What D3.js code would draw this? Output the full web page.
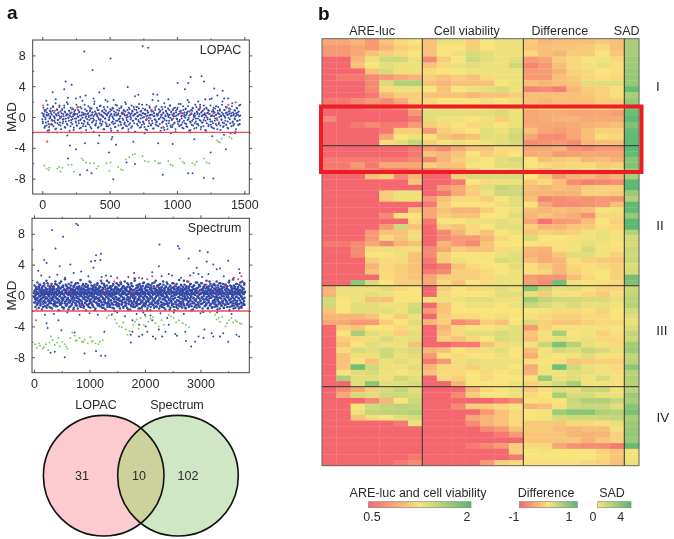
<!DOCTYPE html>
<html><head><meta charset="utf-8">
<script src="https://cdn.jsdelivr.net/npm/d3@7/dist/d3.min.js"></script>
<style>html,body{margin:0;background:#fff}svg{display:block;font-family:"Liberation Sans",Arial,sans-serif;filter:blur(.35px)}</style>
</head><body><svg id="c" width="674" height="539"></svg>
<script>
// Isolated points are read off the reference. The dense central bands cannot be
// resolved point by point, so the *BandY lists are hand-written estimates of that band.
const lopacBandY=[.5,-.8,1.2,.1,-1.4,.7,-.3,.9,-1.1,.2,1.6,-.6,.4,-1.7,.8,-.1,1.1,-.9,.3,-.5,1.4,-1.2,.6,0,-.7,1.8,-1.5,.2,.9,-.4,.5,-1,1.3,-.2,.7,-1.6,.1,1,-.8,.4,-.3,1.5,-1.3,.6,-.6,.2,1.9,-1,.3,-.1,.8,-1.8,.5,1.2,-.4,0,-.9,1.1,.3,-1.4,.7,-.2,.4,-.7,1.6,-1.1,.1,.9,-.5,.6,-1.5,1.3,-.3,.2,-.8,2.1,-1.2,.5,.3,-.6,1,-.1,-1.7,.8,.4,-.9,1.4,0,-.4,.7,-1.3,.2,1.1,-.7,.6,-.2,-1.9,1.7,.3,-1,.5,-.5,1.2,.1,-1.4,.9,-.3,.4,-.8,1.5,-1.1,.2,.7,-.6,0,1.3,-1.6,.5,-.2,.8,-.9,.3,2,-1.2,.6,-.4,.1,1,-1.5,.4,-.7,1.2,-.1,-.9,.7,.2,-1.3,1.6,-.5,.3,.9,-1.8,.5,-.3,1.1,-.6,.1,-1,1.4,.6,-.2,-1.4,.8,.4,-.7,1.9,-1.1,.2,-.4,.9,0,-1.6,1.2,.5,-.8,.3,-.1,1.5,-1.2,.7,-.5,.2,1,-1.9,.4,-.3,1.3,-.9,.6,.1,-.6,1.7,-1.4,.3,-.2,.8,-1,.5,1.1,-.7,0,-1.3,.9,.4,-.4,1.6,-1.7,.2,.6,-.1,-.8,1.2,.3,-1.1,.7,-.5,2.2,-1.5,.1,.5,-.3,.9,-1,1.4,-.6,.2,.4,-1.2,1,-.2,.7,-1.8,.3,1.3,-.7,-.1,.6,-1.4,1.8,-.4,.2,.8,-.9,.5,-1.6,1.1,0,-.5,.3,1.5,-1.1,.7,-.3,-1.3,.9,.1,.4,-.8,1.2,-1.9,.6,-.2,1,-.6,.3,1.7,-1.2,-.4,.5,.8,-1,.2,-.7,1.4,-1.5,.1,.6,-.1,1.1,-.9,.4,-1.3,.7,-.3,1.9,.2,-.6,-1.7,.9,.5,-.5,1.2,-1.1,.3,0,-.8,1.6,-.2,-1.4,.7,.4,-.9,1,.1,-.4,1.3,-1.6,.6,-.7,.2,.8,-1.2,1.5,-.1,.3,-.5,-1.8,1.1,.5,-.3,.9,-1,.4,2.3,-.6,.1,-1.3,.7,.2,-.8,1.2,-1.5,.6,-.2,.3,1.4,-1.1,-.4,.8,.5,-.9,0,1,-1.7,.2,-.3,1.6,-.7,.4,-1.2,.9,.1,-.5,1.3,-1,.6,-1.4,.3,-.1,1.1,.7,-.8,-2.1,.5,.2,1.8,-.6,-1.1,.4,.9,-.3,.1,-1.6,1.2,-.5,.6,.3,-1,1.5,-.9,.2];
const lopacBand2Y=[-.3,-.6,.2,.4,.9,-1.2,-.1,-.7,.3,.6,1.1,.2,-.9,-1.3,-.2,.1,.7,.5,-.4,-1,.8,1.3,.1,-.5,-.2,-1.6,.4,.3,1,-.8,-.4,.6,.2,1.5,-.7,-1.1,0,.5,.9,-.3,-.6,.1,1.2,.7,-1.4,-.2,.3,-.9,.4,1.7,-.1,-.5,.8,.2,-1.2,-.7,.6,1,-.3,.1,-1.7,.5,.3,.9,-.6,-.2,-1.1,.4,1.3,0,-.8,.7,.2,-.4,-1.4,1.1,.6,-.1,.3,-.9,-.5,1.6,.4,-1.2,.1,.8,-.3,-.7,.5,.2,-1,1.2,.9,-.2,-1.5,.3,.6,-.6,.1,-.4,2,.7,-1.1,-.8,.4,.2,.9,-.1,-1.3,.5,1.4,-.5,-.3,.3,-.9,.8,.1,-1.6,.6,1,-.2,-.7,.4,-1.2,.2,1.3,.5,-.4,-.1,-1,.7,.3,-1.8,.9,.1,-.6,1.1,-.3,.4,-.8,-1.3,.6,.2,1.5,-.5,.3,-1.1,.8,-.2,.1,-.7,1.2,.5,-1.5,.4,-.4,.9,-.9,.2,.7,1.7,-.1,-1.2,.3,-.6,.6,-1,1,.1,-.3,-1.4,.5,.8,-.5,.2,1.3,-.8,.4,-1.9,-.2,.9,.6,.1,-1.1,-.4,1.1,.3,-.7,.7,-1.3,.2,1.6,-.1,-.6,.5,-.9,.4,1,-1.6,.1,-.3,.8,.6,-1.2,-.5,1.4,.2,-.2,-1,.9,.3,-.8,.7,-1.5,.5,.1,1.2,-.4,-.7,.4,-1.1,.2,2.1,-.3,.6,-.9,.8,0,-1.4,.3,1,-.6,.5,-.2,-1.7,1.3,.1,.7,-.5,-1.2,.4,.2,-.8,.9,1.5,-.1,-1.3,.6,-.4,.3,-1,1.1,.5,-.7,.1,-1.6,.8,.2,-.3,1.2,-.9,.4,-.6,.7,-1.1,1.7,.1,-.2,-1.4,.5,.9,-.5,.3,-.8,1,.2,-1.2,.6,-.4,1.4,-.1,-1.8,.7,.3,-.7,.4,-1,.8,1.1,-.3,.1,-1.5,.5,.2,-.6,1.3,-.9,.6,-.2,-1.1,.9,.4,1.6,-.5,-1.3,.1,.7,-.7,.3,-.4,1,.5,-1.7,.2,1.2,-.8,-.1,.6,-1.2,.8,.4,-.3,1.5,-1,.2,-.6,-1.4,.9,.7,.1,-.5,1.1,-.9,.3,-.2,-1.6,.5,1.3,-.7,.4,.8,-1.1,.1,-.4,.6,2,-1.3,.2,-.8,.9,-.1,.5,-1,1.2,.3,-.6,-1.5,.7,.4,-.3,1,.1,-1.2,1.4,-.7,.6,.2,-.9,-.2,.8,-1.9,.5,.3,1.1,-.5,-1,.7,.1,-.4,1.6];
const spectrumBandY=[.4,-.9,1.3,-.2,.7,-1.5,.1,1,-.6,.5,-1.2,.3,1.7,-.4,-1,.8,.2,-1.6,1.1,-.1,.6,-.8,1.4,-1.3,.3,0,-.5,.9,-1.8,.5,1.2,-.3,.1,-1.1,.7,-.7,1.6,.4,-1.4,.2,-.2,1,-.9,.6,1.9,-1.6,.3,-.4,.8,-1.2,.1,1.3,-.6,.5,-.1,-1.5,1.1,.2,-.8,.7,-1,.4,1.5,-.3,-1.7,.9,.6,-.5,.2,1.2,-1.3,0,.8,-.7,.3,-1.1,1.8,-.2,.5,-.9,.1,1.4,-1.4,.7,-.4,.2,1,-1.9,.6,-.6,.4,1.6,-1,-.1,.9,-1.2,.3,.5,-.8,1.1,-1.5,.2,-.3,1.3,-.5,.7,-1.6,.1,.8,-1,2.1,-.2,.4,-1.3,.6,-.7,1.2,.3,-1.1,.9,-.4,.1,-1.8,1.5,.5,-.6,.2,-.9,1,-1.4,.7,-.1,.4,1.7,-1.2,.3,-.5,.8,-.8,.1,1.2,-1.6,.6,-.3,.2,1.4,-1,.5,-1.3,.9,0,-.7,1.1,-.2,.3,-1.7,1.6,-.4,.7,-.9,.2,1,-1.1,.4,-.6,2,.1,-1.5,.8,-.1,-.8,.5,1.3,-1.2,.3,-.3,.9,-1.4,.6,-.5,1.2,.2,-1,.4,-1.9,1.5,-.2,.7,-.7,.1,1.1,-1.3,.5,-.4,.8,-1.1,.3,1.8,-.6,0,-1.6,.9,.4,-.9,1.3,-.1,.2,-1.2,.6,-.3,1,-1.5,.7,.1,-.8,1.4,-.5,.3,-1.7,1.1,.5,-.2,-1,.8,.2,1.6,-1.3,-.4,.4,.9,-.7,-1.1,1.2,.1,-.6,.6,-1.4,.3,1.9,-.1,-.9,.7,-1.6,.5,1,-.3,.2,-1.2,1.5,-.8,.4,-.5,1.1,-1.8,.1,.8,-.2,.6,-1,1.3,.3,-1.5,.9,-.4,0,-.7,1.7,-1.1,.5,.2,-1.3,1,-.6,.7,-.1,-.9,1.2,.4,-1.6,.3,-.3,1.4,-1.2,.6,.1,-.5,.8,-2,1.1,.2,-.8,.5,-.2,1.6,-1,.4,-1.4,.9,.3,-.6,.7,-1.1,1.3,-.4,.1,-1.7,.6,.8,-.7,1.5,-.1,-1.2,.2,1,-.9,.5,-.3,-1.5,1.2,.4,-.5,.3,1.8,-1.3,.7,-.8,.1,.9,-1,.6,-1.6,1.1,-.2,.2,-.6,1.4,-1.1,.5,-.4,.3,1,-1.8,.8,-.1,-.7,1.6,-1.4,.4,.2,-.9,1.2,-.3,.6,-1.2,.1,.7,-.5,2.2,-1.5,.3,-.2,.9,-1,.5,1.3,-.8,-1.3,.4,.1,-.6,1.1,-1.7,.7,.2,-.4,1.5,-1.1,.3,.6,-.9,1,-.1,-1.6,.8,.5,-.7,1.2,-.3,-1.2,.2,1.7,-.5,.4,-1.4,.9,.1,-1,.6,1.3,-.8,-.2,-1.9,.7,.3,-.6,1.1,-1.3,.5,-.4,1.4,.2,-1.1,.8,-.1,-1.5,1,.4,-.9,.6,-.3,1.6,-1.2,.1,.3,-.7,1.2,-1.6,.5,-.5,.9,-1,.2,1.9,-.2,-1.4,.7,.4,-.8,1.3,-1.1,.6,0,-.6,1,-1.7,.3,.8,-.4,1.5,-1.3,.1,.5,-.9,1.1,-.1,-1.5,.7,.2,-.5,1.4,-1,.4,-1.2,.9,.6,-.3,-1.8,1.2,.3,-.7,.1,1.7,-1.1,.5,-.2,.8,-1.4,1,.4,-.6,-1,.7,.2,1.3,-1.6,-.4,.6,.9,-.8,.3,-1.3,1.6,-.1,.5,-.5,-1.1,1.1,.2,-1.9,.8,.4,-.3,1.2,-.9,.1,-1.5,1.5,.6,-.6,.3,-1.2,1,-.2,.7,-.7,2,-1.4,.5,.1,-.4,.9,-1.1,1.3,-.8,.2,.6,-1.6,.4,-.1,1.1,-1,.7,-.5,-1.3,1.4,.3,-.3,.8,-1.7,.5,1,-.6,.1,-1.2,1.8,-.2,.4,-.9,.9,-1.5,.2,1.2,-.7,.6,-.4,-1.1,1.5,.3,-.1,-1.4,.7,.5,-.8,1.1,-1.8,.2,-.3,1.3,-1,.8,.4,-.6,.1,-1.3,1.7,-.5,.6,-1.6,.9,.3,-.2,1,-1.2,.5,-.9,1.4,.1,-.4,-1.5,1.2,.7,-.7,.2,-1.1,1.6,.4,-.3,.8,-1,.6,-2.1,1.1,-.1,.3,-.8,1.3,-1.4,.5,-.5,.9,.2,-1.2,1.9,-.2,.4,-.6,1,-1.7,.7,.1,-.9,1.2,-.4,.6,-1.3,.3,1.5,-1.1,.8,-.3,.2,-1.6,1.1,.5,-.7,-.1,1.4,-1,.4,.9,-1.5,.3,-.5,1.3,-.8,.6,-1.2,.1,1.8,-.2,-1.4,.7,.5,-.6,1,-1.1,.2,-.3,1.6,-1.7,.8,.4,-.9,1.2,-.4,.1,-1.3,.9,.6,-.7,1.5,-1,.3,-.1,-1.6,1.1,.2,-.5,.7,-1.2,1.4,.5,-.8,-.2,1,-1.5,.4,.8,-.3,.1,-1.1,1.7,-.6,.6,-1.9,.3,1.3,-.9,.2,-.4,1.2,-1.4,.7,-.1,.5,-1,2.1,-.7,.1,-1.3,.9,.4,-.5,1.1,-1.6,.6,-.2,.3,-1.2,1.5,-.8,.8,.2,-1.1,1,-.3,.5,-1.7,1.4,.1,-.6,.7,-1.5,.4,1.2,-.9,-.1,.6,-1.3,1.8,-.4,.3,-1,.9,.2,-.7,1.6,-1.2,.5];
const spectrumBand2Y=[-.2,.3,.6,-.5,-.9,.1,.8,1.1,-.3,-1.2,.4,.2,-.7,.9,1.4,-.1,-.6,.5,-1.1,-.4,.7,.3,1,-.8,.2,-1.5,-.2,.6,1.3,.1,-.9,-.5,.4,.8,-.3,-1.3,.2,1.6,.5,-.7,-.1,.3,-1,.9,.6,-.4,-1.6,1.2,.1,-.6,.7,.4,-.2,-1.1,1,.2,-.8,.5,1.5,-.3,-1.4,.3,.8,-.5,.1,-.9,.6,1.2,-.7,.4,-.1,-1.2,.9,.2,1.8,-.4,-1,.5,.3,-.6,1.1,-1.7,.1,.7,-.2,-.8,.4,1.4,.6,-1.3,-.5,.2,.9,-.3,1,-.9,.3,-1.5,.5,.1,-.7,1.3,.8,-.4,-1.1,.2,.6,-.2,-1.8,1.1,.4,-.6,.7,.1,-1,1.6,-.3,.3,-1.3,.5,.9,-.8,.2,-.5,1.2,-.1,-1.4,.6,.4,-.7,1,.3,-1.1,.8,-.4,1.5,-1.6,.1,.5,-.2,-.9,.7,1.1,-.6,.2,-1.2,.4,-.3,1.3,.9,-1.5,-.1,.6,-.8,.3,1.7,-.5,-1,.1,.8,.4,-1.3,1.2,-.7,.2,-.2,.5,-1.9,1,.7,-.4,-.9,.3,1.4,-1.1,.1,.6,-.6,.9,-.3,-1.4,.4,1.1,.2,-.8,-.1,1.6,-1.2,.5,-.5,.8,-1.6,.3,1.3,-.7,.1,-1,.7,.4,-.2,1.9,-1.3,.6,-.9,.2,-.4,1,.5,-1.5,1.2,-.1,-.6,.3,.8,-1.1,.1,-.3,1.5,.6,-1.7,-.8,.4,.9,-.2,.2,-1.2,1.1,-.5,.7,.3,-1,1.4,-.4,-1.4,.5,.1,-.7,1.7,.8,-.1,-1.1,.3,-.6,.6,1.2,-1.6,.2,-.3,.9,-.9,.4,1,-1.3,.7,-.5,.1,1.6,-.2,-1.8,.5,.3,-.8,1.1,-.4,.6,-1.2,.2,.8,1.3,-1,-.1,.4,-1.5,.7,-.7,.1,1.9,-.3,-.9,.5,.2,-1.3,1,.6,-.5,-1.1,1.4,.3,-.2,.8,-1.7,.1,-.6,1.2,.4,-.9,.7,-1.4,.2,1.6,-.4,.5,-1,-.1,.9,.3,-1.2,1.1,-.7,.6,-.3,-1.6,1.5,.2,-.8,.4,.1,-.5,1,-1.9,.7,1.3,-.2,-1.1,.5,.3,-.6,.9,-1.3,.2,1.7,-.4,-.9,.6,.8,-.1,-1.5,.4,1.2,-.7,.1,-1,.3,1.4,-.3,.5,-1.4,.7,-.8,1,.2,-1.2,.6,-.5,1.8,-.1,-1.6,.4,.9,-.6,.3,-1.1,1.1,-.2,.1,-.9,1.5,.5,-1.3,-.4,.7,.2,-1.8,1.2,.6,-.7,.3,-.1,1,-1.1,.4,-.5,1.6,-1.5,.8,.1,-.3,-.8,1.3,.5,-1.2,.2,.9,-.6,-1.7,.7,.3,1.1,-.2,-1,.4,.6,-.9,1.4,-1.4,.1,-.4,.8,.5,-.7,-1.2,1.9,.2,-.1,.9,-1.6,.3,-.5,1.2,-1.1,.6,.4,-.3,-.8,1,-1.3,.7,.1,1.5,-.6,-.2,.5,-1.9,.2,1.1,-1,.8,-.4,.3,1.3,-1.5,.1,.6,-.7,-1.2,.9,.4,1.7,-.1,-.9,.5,-.3,-1.4,1.2,.2,.7,-.6,-1.1,.3,1.6,-.2,.8,-1.7,.4,-.5,1,.1,-.8,1.4,-1.3,.6,.3,-.4,-1,1.1,.5,.2,-1.6,.9,-.7,-.1,1.8,.4,-1.2,.7,-.3,.1,1.2,-1.5,.5,-.9,.6,.3,-.6,1.5,-1.1,-.2,.8,.2,-1.4,1,.4,-.5,-1.8,1.3,.1,-.8,.7,.5,-.3,-1,1.6,.2,-1.3,.6,-.1,.9,-.7,.4,1.1,-1.6,.3,-.4,-1.2,1.4,.8,-.6,.1,.5,-.9,1.2,-1.1,.2,-.2,.7,1.9,-1.5,.4,-.5,.6,-.8,1,.3,-1.3,.1,.9,-.3,-1.7,1.3,.5,-.6,.2,-1,.8,1.5,-.1,-.7,.4,-1.4,1.1,.6,-.4,.3,-1.1,.7,.1,1.7,-.9,-.2,-1.6,1,.5,-.5,.2,.8,-1.2,1.4,-.3,.4];
const lopacBlue=[[745,9.2],[787,9],[312,8.5],[507,7.6],[374,6.1],[173,4.6],[218,4.2],[163,3.6],[77,3.2],[458,3.7],[423,3.2],[634,3.9],[1005,4.4],[1059,3.6],[1084,4.4],[1101,5.2],[1183,5.3],[1200,4.6],[1277,3.7],[1339,3.4],[824,3],[854,2.9],[713,2.9],[688,2.7],[1300,2.8],[1257,2.4],[1158,2],[936,2.3],[322,2.8],[282,2.6],[380,2.4],[470,2.2],[530,2.2],[30,2.1],[100,2.3],[190,2.5],[250,2.4],[1080,2.2],[1210,2.3],[1350,2.4],[1380,2.4],[186,-2.4],[205,-3.7],[250,-4.2],[191,-5.4],[317,-3.4],[416,-3.4],[423,-2.4],[520,-2.6],[515,-2.9],[547,-3.6],[495,-4.6],[676,-3.2],[688,-6.1],[626,-5.9],[280,-7.5],[334,-6.9],[366,-7.3],[527,-8.1],[894,-7.5],[1084,-7.3],[1116,-7.3],[1200,-7.9],[1270,-8],[1250,-4.6],[1262,-2.5],[861,-3.4],[968,-3.5],[1129,-2.9],[1364,-4.2],[1349,-2.3],[955,-2.1],[40,-1.8],[110,-2],[290,-2],[640,-1.9],[760,-2.1],[1100,-2],[1430,-2.1]];
const lopacRed=[[7,1.5],[37,-3.2],[45,-2],[1436,1.9],[1381,1.6],[1369,1.3],[230,1],[260,1.2],[708,1.3],[1171,1.1],[899,-1.3],[94,.8],[428,.3],[601,.5],[812,.9],[1030,.5],[1270,.5],[57,-1],[1220,0],[131,0],[205,.1],[775,-.2],[973,-.2],[1295,-.2],[1097,.3]];
const lopacGreen=[[15,-6.3],[32,-6.7],[47,-6.9],[52,-6.6],[111,-6.7],[126,-6.5],[136,-7.1],[149,-6.6],[193,-6.2],[218,-6.2],[235,-7.1],[292,-5.4],[304,-5.6],[324,-5.9],[354,-6],[384,-6],[403,-6.7],[416,-6.4],[478,-6],[507,-5.9],[498,-7],[564,-6.5],[582,-6.8],[597,-6.9],[621,-5.5],[646,-5.2],[671,-4.9],[688,-4.8],[745,-5.1],[762,-5.7],[787,-5.8],[837,-5.7],[861,-6],[874,-6],[936,-5.7],[953,-6.2],[968,-6.3],[1022,-5.4],[1042,-5.8],[1054,-6],[1114,-6],[1134,-6.2],[1146,-5.8],[1200,-5.4],[1220,-5.9],[1240,-6],[1295,-3],[1307,-3.2],[1319,-3.3],[1332,-2.8],[1389,-2.6],[1406,-2.8]];
const spectrumBlue=[[762,9.3],[792,9.1],[327,8.5],[524,7.6],[387,6.1],[2262,6.6],[2595,6.4],[2619,6.1],[2988,5.8],[3131,5.6],[1208,5.4],[1119,5.2],[185,4.6],[226,4.2],[655,4],[1030,4.4],[1101,4.5],[1196,4.6],[464,3.8],[77,3.2],[1071,3.6],[2786,4.8],[3500,4.5],[3113,4.4],[3232,4],[2250,3.8],[2934,3.6],[3292,3.4],[3351,3.5],[3696,3.4],[1804,2.9],[2131,3],[2429,2.8],[2488,2.6],[2875,2.9],[1298,2.6],[1387,2.5],[851,3.1],[714,2.9],[2815,2.6],[3143,2.8],[3708,2.9],[2964,2.8],[130,2.6],[280,2.4],[420,2.7],[560,2.3],[980,2.5],[1220,2.4],[1500,2.3],[1700,2.4],[1950,2.2],[2300,2.5],[2650,2.3],[3030,2.4],[3420,2.5],[3600,2.3],[226,-3.6],[244,-4.2],[196,-2.5],[494,-4.5],[440,-3.2],[357,-2.4],[821,-2.5],[732,-4.8],[1268,-4.7],[298,-7.4],[375,-7.3],[554,-8],[911,-7.5],[1119,-7.2],[1208,-7.8],[1286,-7.8],[1744,-6.1],[1893,-5.3],[1744,-5.1],[1774,-4.7],[1952,-5.1],[2143,-5.3],[2190,-5.6],[2310,-5.3],[2548,-5],[2577,-5.2],[2726,-4.7],[2738,-5.9],[2833,-6.6],[2905,-6],[2964,-5.3],[3071,-4.4],[3054,-5.5],[3202,-4.9],[3232,-5.3],[3351,-5.3],[3411,-4.9],[3500,-6],[3649,-5.1],[3696,-5.3],[1774,-3.2],[2012,-4],[2042,-4.7],[2250,-4.4],[2369,-4.7],[1893,-3.8],[2131,-3.2],[2429,-3.8],[1952,-1.9],[1970,-2.2],[2000,-2.5],[1400,-2.5],[1500,-2.2],[1640,-2.7],[1850,-2.4],[2100,-2.6],[2280,-2.3],[2400,-2.9],[2520,-2.2],[2700,-2.4],[3000,-2.3],[3300,-2.2],[3560,-2.4],[600,-2.2],[1000,-2.3],[1150,-2.5]];
const spectrumRed=[[36,-3.2],[48,-1.8],[1446,1.8],[1565,1.8],[2131,2.5],[2042,2.1],[1893,2.3],[2786,1.8],[3738,2.5],[3589,2],[3680,2.1],[256,1.2],[613,.6],[2548,1.4],[3113,1.4],[3440,1.2],[1298,.7],[850,-1.3],[1780,.5],[2200,1],[2950,.6],[3300,.9]];
const spectrumGreen=[[18,-6.3],[48,-6.8],[107,-6.5],[155,-6.9],[214,-6.3],[256,-7.1],[304,-5.3],[333,-5.8],[375,-6.4],[417,-6.1],[464,-6.6],[512,-6],[554,-6.3],[601,-6.9],[655,-5.5],[690,-4.8],[732,-5.2],[774,-5.8],[821,-5.5],[863,-6],[911,-5.7],[970,-6.2],[1012,-5.4],[1060,-5.9],[1107,-6.2],[1161,-6.3],[1238,-5.8],[1310,-2.9],[1345,-2.6],[1417,-2.4],[1488,-3.6],[1536,-4],[1607,-3.5],[1655,-4.4],[1685,-5.1],[1786,-3.8],[1821,-3.4],[1881,-4.3],[1923,-2.9],[2012,-2.7],[2060,-3.4],[2143,-2.8],[2190,-3.6],[2250,-4],[2339,-3.8],[2429,-2.5],[2518,-2.9],[2607,-3.2],[2679,-3.6],[2738,-3.8],[2798,-4.1],[3262,-2.5],[3292,-3.1],[3351,-3.4],[3393,-2.8],[3452,-4],[3512,-3.2],[3589,-3.5],[3631,-3.2],[3708,-3.6],[3738,-3.7],[1460,-3.1],[1580,-4.1],[1720,-4.6],[1850,-3.1],[1980,-3.8],[2100,-3],[2300,-3.2],[2470,-2.7],[2560,-3.5],[3170,-2.2],[3330,-2.9],[3480,-3.6],[3560,-2.9],[3660,-3.4],[90,-6.2],[180,-6.7],[280,-6.1],[440,-5.5],[580,-6.6],[750,-5.9],[890,-6],[1040,-6],[1190,-6]];

const areLuc=[
[.75,.75,.8,.7,.85,.95,1],[.7,.7,.75,.7,.8,.9,.95],[.7,.7,.75,.85,.9,.95,1],[.5,.5,.8,1.05,1.2,1.2,1.05],[.5,.5,.85,1,1.1,1.05,1.05],[.5,.5,.55,.85,1.15,1.05,1.05],[.55,.6,.6,.65,.7,.75,.8],[.5,.5,.5,.65,1.15,1.35,1.35],[.5,.5,.5,.65,.95,1.05,1.05],[.5,.5,.5,.6,.8,.9,.9],[.6,.6,.65,.7,.65,.75,.9],[.5,.5,.55,.6,.6,.65,.85],[.55,.55,.55,.55,.55,.55,.7],[.65,.55,.55,.55,.55,.55,.6],[.55,.55,.6,.65,.6,.6,.7],[.55,.55,.55,.55,.6,.9,.9],[.55,.55,.55,.55,.75,1,1.05],[.55,.55,.55,.55,.95,1.1,1.25],
[.55,.55,.55,.55,.55,.55,.6],[.55,.55,.55,.55,.55,.55,.6],[.6,.6,.6,.6,.6,.6,.65],[.6,.6,.7,.6,.75,.75,.75],[.6,.6,.65,.65,.6,.6,.65],[.5,.5,.5,.85,.9,.65,.8],[.5,.5,.5,.5,.5,.55,.85],[.5,.5,.5,.5,.5,.5,.55],[.5,.5,.5,.5,.9,1.05,1.05],[.5,.5,.5,.5,.9,1.05,1.05],[.5,.5,.5,.5,.5,.5,.55],[.5,.5,.5,.5,.5,.5,.85],[.5,.5,.5,.5,.65,1,1],[.5,.5,.5,.5,.5,.55,.95],[.5,.5,.5,.5,.7,1.2,.85],[.5,.5,.5,.7,.85,.85,.95],[.5,.5,.5,.7,.95,.85,1.05],[.6,.6,.65,.75,.65,.8,.85],[.5,.5,.65,.95,1.05,.95,1.05],[.5,.5,.65,1,1,1.05,.85],[.5,.5,.55,.9,.95,.95,.85],[.5,.5,.55,.8,.95,.9,.85],[.5,.5,.55,.85,.95,.9,.85],[.5,.5,.5,.55,.95,.9,.85],[.5,.5,1.6,1.15,1,.9,.9],
[.8,1.05,1.05,1.05,1.1,.95,1],[.8,1.05,1.05,1.1,1.05,1,1],[1.2,1,1.05,.85,.85,1,1],[1.2,1,1.1,1.1,1.05,1.05,1.15],[.85,1,1.1,1.1,1.1,1.05,1.2],[.8,.8,.8,.85,1,.9,1.05],[.75,.75,.7,.7,.9,1,1.1],[.5,.9,.85,1,1,.95,1.05],[.5,1,1.4,1.1,1.05,.9,1.1],[.5,.9,.95,1.05,1.15,1.05,1.1],[.5,.85,1,1.1,1.05,1.05,.85],[.5,.95,1.15,1.1,1.2,1.1,1.15],[.5,.85,1.05,1.05,1.2,1.05,1.1],[.5,.85,1,.85,1.05,1.1,1.05],[.5,.85,1.8,1.2,1.05,1.05,1.1],[.5,1,1.1,1.15,1.05,1,1.05],[.5,1.4,1.1,1.1,1.05,1.2,1.1],[.5,.55,1.1,1.6,1.1,1.1,1.15],
[.5,.65,.75,.9,1.15,1.25,1.1],[.5,.75,1.15,1.1,1.2,1.2,1.15],[.5,.5,.55,.65,.8,1,1.2],[.5,.5,1,1.2,1.25,1.3,1.25],[.5,.5,1.05,1.25,1.3,1.3,1.35],[.5,.5,.85,.95,1,1.1,1.15],[.5,.5,.5,.5,.55,.6,1.05],[.5,.5,.5,.5,.5,.5,.5],[.5,.5,.5,.5,.5,.5,.5],[.5,.5,.5,.5,.5,.5,.5],[.5,.5,.5,.5,.5,.5,.55],[.5,.5,.5,.5,.5,.5,.55],[.5,.5,.5,.5,.5,.55,.6],[.5,.5,.5,.5,.55,.6,.65]];
const cellViability=[
[.85,1.05,1.05,.9,1,1.05,1.05],[.85,1,1,.9,1,1.05,1.05],[.85,1,1.05,1.15,1.1,1.05,1.05],[.65,.9,1,1.2,1.1,1.05,1.1],[.85,.95,1.05,1.1,1.05,1.05,1.2],[.95,1,1,1.05,1.05,1.05,1.05],[.9,.85,.9,.85,.95,1.05,1.05],[.85,.8,.85,.85,.85,1,1.05],[1,.85,1,1.05,1.1,1.15,1.05],[.85,.85,.85,.8,.85,.85,.9],[.95,1,1,1,1.05,1,1.05],[1.05,1.1,1.05,1,1.05,1.1,1.1],[1.1,1.1,1.1,1.1,1.1,1.15,1.05],[1.1,1.05,1.05,1,1.05,.9,1.05],[.9,.95,1,.95,1.05,1,1.05],[.7,.9,.95,1,1.1,1.05,1.15],[1,.85,.8,.85,1.1,1.1,1.2],[.9,1,1.05,1,1.05,1.1,1.15],
[.7,.65,.75,.85,.85,.95,.95],[.85,.8,.85,1,.9,.95,1],[.65,.8,.9,1.05,1,1.1,1.15],[.9,.85,.85,1,1,1.1,1.1],[.65,.7,.75,.9,1,1,1.05],[.55,.55,.9,1.15,1.15,1.15,1.15],[.5,.5,.6,1,.95,1.05,1.05],[.5,.7,.75,.9,1.1,1.25,1.2],[.5,.6,.75,.9,1.05,1.2,1.2],[.7,.85,.95,.95,.9,1,1.1],[.6,.9,1,1,1,1.05,1.1],[.75,.85,.8,.8,.9,1,1.05],[.75,.9,.85,.85,1,1,1.1],[.6,1,1,1.05,1.05,1.1,1.05],[.55,.9,.85,.95,1,1.1,1.1],[.55,.65,.8,.95,.85,1,1.05],[.55,.65,.7,.7,.8,.95,1],[.55,.8,.7,.65,.85,1,1],[.65,.75,.9,.85,.85,.95,1.05],[.65,.9,1,1,1,1.05,1.1],[.6,.9,1.05,1,1,1.15,1.1],[.55,.6,.85,.95,1,1,1.1],[.6,.65,.9,.9,.95,1,1.05],[.75,.9,.9,.9,.95,1.05,1.05],[.75,.95,.85,1,.95,1.05,1.05],
[.55,.9,1,.95,1.05,1.1,1.05],[.55,.95,1,1,1,1.1,1.1],[1,1.05,1.05,1.1,1.1,1.05,1.05],[.55,.85,1,1.05,1.05,1,1.05],[.7,.85,1,1,1,1,1],[.55,.9,.95,.95,1,1.05,1],[.8,.9,.65,.7,.9,.85,1],[.5,.8,.95,1,1,1.05,1.1],[.55,.85,.95,1.1,1.1,1.15,1.1],[.55,.9,.85,.95,1,1.15,1.1],[.55,.55,.6,.6,.85,.95,1.05],[.8,.85,1,.95,1.05,1.1,1],[.7,1,.95,1,1,1.05,1],[.6,.7,1.05,1.1,1.05,1.05,1.05],[.8,.95,.95,.9,1.05,1.05,1],[.85,.95,.95,1,.95,1,1.05],[.55,.95,.9,1,.95,1,1],[.55,.55,.8,1,1,1,1.05],
[.55,.55,.55,.8,.95,1,1.05],[.5,.5,.65,.9,1,1,1.05],[.5,.5,.55,.55,.55,.6,.65],[.5,.5,.65,.9,.9,.95,1],[.5,.5,.5,.55,.7,.85,.95],[.5,.5,.55,.75,.8,.85,.95],[.5,.5,.5,.65,.8,.85,.95],[.5,.5,.5,.55,.65,.7,.85],[.5,.5,.5,.5,.55,.6,.7],[.5,.5,.5,.5,.5,.5,.55],[.5,.5,.5,.6,.65,.7,.9],[.5,.5,.5,.5,.5,.5,.9],[.5,.5,.5,.5,.5,.5,.6],[.5,.5,.5,.5,.7,.9,.95]];
const difference=[
[-.2,-.35,-.3,-.3,-.3,-.2,-.3],[-.25,-.3,-.25,-.25,-.2,-.1,-.3],[-.1,-.3,-.35,-.2,-.2,0,-.25],[-.6,-.5,-.2,-.1,0,.05,-.1],[-.75,-.6,-.3,-.1,.05,.1,-.05],[-.6,-.55,-.4,-.15,-.1,0,-.05],[-.6,-.6,-.3,-.2,-.1,-.05,-.1],[-.3,-.35,-.3,-.25,.15,.15,.15],[-.75,-.7,-.8,-.35,-.2,-.15,-.05],[-.3,-.3,-.3,-.3,-.25,-.15,-.05],[-.3,-.35,-.3,-.3,-.3,-.2,-.2],[-.25,-.15,-.15,-.2,-.2,-.15,-.2],[-.5,-.45,-.45,-.5,-.5,-.5,-.55],[-.5,-.45,-.4,-.4,-.45,-.45,-.45],[-.45,-.5,-.5,-.45,-.4,-.35,-.3],[-.3,-.5,-.55,-.5,-.3,-.15,-.15],[-.5,-.7,-.7,-.5,-.3,-.05,-.1],[-.7,-.65,-.6,-.7,-.35,-.3,-.3],
[-.5,-.5,-.4,-.65,-.7,-.6,-.6],[-.45,-.4,-.6,-.55,-.5,-.5,-.5],[0,-.3,-.2,-.15,-.35,-.3,-.4],[0,-.05,-.15,-.1,-.1,-.2,-.15],[-.15,-.3,-.1,-.1,0,-.1,-.05],[0,-.25,-.6,-.4,-.35,-.5,-.4],[-.2,-.1,-.3,-.7,-.8,-.75,-.7],[-.3,-.35,-.3,-.35,-.2,-.15,-.15],[-.35,-.35,-.4,-.4,-.15,-.15,-.2],[-.3,-.75,-.7,-.65,-.65,-.6,-.65],[0,-.5,-.7,-.7,-.65,-.6,-.3],[-.3,-.35,-.3,-.35,-.3,0,.05],[-.35,-.25,-.35,-.45,-.65,-.1,-.1],[-.5,-.9,-.6,-.55,-.3,0,-.15],[-.15,-.35,-.35,-.25,-.2,-.05,-.1],[-.25,-.15,-.2,-.15,.05,.1,-.05],[.2,0,0,-.05,.05,.1,.05],[0,-.05,-.05,.05,.1,.05,0],[-.35,-.4,-.05,.05,.2,.05,-.05],[-.4,-.45,-.25,.15,.15,.05,-.15],[-.3,-.45,-.35,-.05,-.15,-.2,-.25],[-.05,-.2,-.35,-.1,-.05,-.1,-.15],[-.05,-.1,-.35,-.15,-.05,0,-.15],[-.55,-.65,-.65,-.3,-.1,0,-.15],[-.55,-.7,.85,.05,0,-.05,-.1],
[.7,.3,.1,.15,.05,-.15,-.1],[.1,-.2,.05,-.05,-.1,-.2,-.05],[.55,.35,.25,.25,.2,.2,.1],[.3,.2,.1,.2,.1,.1,.05],[0,.05,-.1,-.1,-.05,-.15,0],[.05,-.1,-.15,-.15,-.1,-.1,0],[.2,-.15,-.25,-.25,-.15,-.1,-.1],[-.6,-.15,-.05,.05,.05,-.05,0],[-.25,.05,.5,0,.05,-.15,-.05],[-.3,-.05,.1,.05,.1,-.1,-.1],[.05,.3,.75,.4,.1,.05,-.1],[-.3,.05,.25,.15,.3,.2,.1],[-.45,.05,0,.05,.15,.05,-.05],[-.05,0,-.05,-.25,-.2,-.15,-.15],[-.45,.05,.85,.25,.1,.05,-.1],[-.4,.05,.05,.15,.1,.05,-.05],[-.05,.6,.1,.15,.05,.2,.05],[-.15,.1,.25,.5,.05,.05,-.05],
[-.2,-.05,.15,.1,.3,.3,.05],[-.1,0,.5,.2,.2,.1,.1],[0,-.05,0,.3,.45,.45,.3],[-.35,-.3,-.05,.25,.3,.3,.15],[0,.05,.55,.7,.7,.45,.4],[0,.05,.2,.25,.25,.3,.35],[-.2,-.2,-.25,-.1,-.1,-.05,.1],[-.2,-.2,-.3,-.35,-.3,-.3,.05],[-.25,-.25,-.25,-.35,-.4,-.35,-.15],[-.25,-.25,-.25,-.25,-.4,-.25,-.15],[-.1,-.1,-.5,-.65,-.7,-.7,-.85],[0,.05,0,0,0,-.15,-.25],[0,0,0,0,0,-.1,-.25],[-.05,-.05,-.05,-.05,-.1,-.15,-.3]];
const sad=[2,2,2,2.2,2.2,2.5,2.5,2.5,3.6,2,2.5,3,3.5,3.8,3,3.6,3.8,3.8,3.9,3.7,2.8,3,2.5,2,3.9,3.9,2.3,1.8,3.8,3.8,2.5,3.9,3.9,1.6,.9,.8,1.2,1,1.2,.7,.8,3.3,3,1.2,1.3,1.5,1.6,1,.6,.4,.7,1.3,1.1,2.1,2.3,1.3,1.5,2.7,1.6,1.8,1.6,1.5,2.3,2,2.8,3.2,2,2.4,2.4,2.5,2.4,3.8,.2,.2,.3];
const blockRows=[18,25,18,14];
const blockNames=["I","II","III","IV"];
const panelNames=["ARE-luc","Cell viability","Difference","SAD"];
const vennNames=["LOPAC","Spectrum"];
const vennCounts=[31,10,102];

const svg=d3.select("#c");
const TXT="#2a2a2a";
const text=(x,y,s,size,anchor="middle",extra={})=>{const t=svg.append("text").attr("x",x).attr("y",y).attr("font-size",size).attr("text-anchor",anchor).attr("fill",TXT).text(s);Object.entries(extra).forEach(([k,v])=>t.attr(k,v));return t;};
text(7,18.5,"a",19,"start",{"font-weight":"bold",fill:"#111"});
text(318,20,"b",19,"start",{"font-weight":"bold",fill:"#111"});

function scatter(o){
  const x=d3.scaleLinear().domain(o.xd).range([o.l,o.r]);
  const y=d3.scaleLinear().domain([-10,10]).range([o.b,o.t]);
  const g=svg.append("g");
  const pts=(data,c,rad)=>g.append("g").selectAll("circle").data(data).join("circle").attr("cx",d=>x(d[0])).attr("cy",d=>y(d[1])).attr("r",rad).attr("fill",c);
  o.bands.forEach(b=>pts(b.map((v,i)=>[i/(b.length-1)*o.xmax,v]),"#3448a6",o.rad));
  pts(o.blue,"#3448a6",1);
  pts(o.green,"#77c65f",.95);
  pts(o.red,"#ef4045",1.05);
  g.append("line").attr("x1",o.l).attr("x2",o.r).attr("y1",y(-2)).attr("y2",y(-2)).attr("stroke","#f2474d").attr("stroke-width",o.lw);
  const style=a=>{a.selectAll(".domain").remove();a.selectAll("line").attr("stroke","#555");a.selectAll("text").attr("font-size",12.5).attr("fill",TXT).attr("font-family","Liberation Sans");};
  const yt=[-8,-4,0,4,8],ym=[-6,-2,2,6];
  [[d3.axisLeft(y),o.l,3],[d3.axisRight(y),o.r,3]].forEach(([ax,px,l],i)=>{
    const s=i?-1:1;
    svg.append("g").attr("transform",`translate(${px},0)`).call(ax.tickValues(yt).tickSize(-l*s).tickPadding(7).tickFormat(i?"":d=>String(d))).call(style);
    svg.append("g").attr("transform",`translate(${px},0)`).call((i?d3.axisRight(y):d3.axisLeft(y)).tickValues(ym).tickSize(-1.5*s).tickFormat("")).call(style);
  });
  [[d3.axisBottom(x),o.b,1],[d3.axisTop(x),o.t,-1]].forEach(([ax,py,s],i)=>{
    svg.append("g").attr("transform",`translate(0,${py})`).call(ax.tickValues(o.xt).tickSize(-3*s).tickPadding(6.5).tickFormat(i?"":d3.format("d"))).call(style);
    svg.append("g").attr("transform",`translate(0,${py})`).call((i?d3.axisTop(x):d3.axisBottom(x)).tickValues(o.xm).tickSize(-1.5*s).tickFormat("")).call(style);
  });
  svg.append("rect").attr("x",o.l).attr("y",o.t).attr("width",o.r-o.l).attr("height",o.b-o.t).attr("fill","none").attr("stroke","#444").attr("stroke-width",1);
  text(11,(o.t+o.b)/2,"MAD",13.5,"middle",{transform:`rotate(-90 11 ${(o.t+o.b)/2})`,dy:"0.35em"});
  text(o.r-8,o.t+14,o.name,o.labelSize,"end");
}
scatter({name:"LOPAC",labelSize:12.5,l:32.7,r:249.3,t:40,b:194,xd:[-71,1537],xmax:1470,xt:[0,500,1000,1500],xm:[250,750,1250],bands:[lopacBandY,lopacBand2Y],blue:lopacBlue,red:lopacRed,green:lopacGreen,rad:1,lw:1.2});
scatter({name:"Spectrum",labelSize:12.5,l:32,r:249.3,t:218.3,b:372.7,xd:[-36,3880],xmax:3800,xt:[0,1000,2000,3000],xm:[500,1500,2500,3500],bands:[spectrumBandY,spectrumBand2Y],blue:spectrumBlue,red:spectrumRed,green:spectrumGreen,rad:1.25,lw:1.6});

// Venn
const vx=d3.scaleLinear().domain([0,1]).range([103.7,178]);
const vr=60.3,vy=475.7;
const defs=svg.append("defs");
defs.append("clipPath").attr("id","cl").append("circle").attr("cx",vx(0)).attr("cy",vy).attr("r",vr);
const vg=svg.append("g");
vg.append("circle").attr("cx",vx(0)).attr("cy",vy).attr("r",vr).attr("fill","#fbcbd0");
vg.append("circle").attr("cx",vx(1)).attr("cy",vy).attr("r",vr).attr("fill","#d0e7c6");
vg.append("circle").attr("cx",vx(1)).attr("cy",vy).attr("r",vr).attr("fill","#cdd29c").attr("clip-path","url(#cl)");
[0,1].forEach(i=>vg.append("circle").attr("cx",vx(i)).attr("cy",vy).attr("r",vr).attr("fill","none").attr("stroke","#111").attr("stroke-width",1.6));
text(96,409,vennNames[0],12.5);text(177,409,vennNames[1],12.5);
[82,139,188].forEach((px,i)=>text(px,479.5,vennCounts[i],12.5));

// Heatmap
const ratioColor=d3.scaleLog().domain([.55,1,2]).range(["#f4676e","#f9e47c","#58b873"]).clamp(true).interpolate(d3.interpolateRgb);
const diffColor=d3.scaleLinear().domain([-1,0,1]).range(["#f4676e","#f9e47c","#58b873"]).clamp(true);
const sadColor=d3.scaleLinear().domain([0,4]).range(["#f9e47c","#58b873"]).clamp(true);
const cum=d3.cumsum(blockRows);
const yR=d3.scaleLinear().domain([0,...cum]).range([38.7,145.7,285.7,386.7,465.7]);
const panels=[{d:areLuc,c:ratioColor,x:[322,422.3]},{d:cellViability,c:ratioColor,x:[422.3,523.3]},{d:difference,c:diffColor,x:[523.3,624.3]},{d:sad.map(v=>[v]),c:sadColor,x:[624.3,639]}];
panels.forEach((p,pi)=>{
  const n=p.d[0].length;
  const xc=d3.scaleLinear().domain([0,n]).range(p.x);
  const g=svg.append("g");
  p.d.forEach((row,ri)=>{
    g.selectAll(null).data(row).join("rect").attr("x",(d,i)=>xc(i)).attr("y",yR(ri)).attr("width",xc(1)-xc(0)+.3).attr("height",yR(ri+1)-yR(ri)+.3).attr("fill",d=>p.c(d));
  });
  text(d3.mean(p.x)+[0,-6,-14,-5][pi],35,panelNames[pi],12.5);
});
svg.append("rect").attr("x",322).attr("y",38.7).attr("width",317).attr("height",427).attr("fill","none").attr("stroke","#666").attr("stroke-width",1);
[422.3,523.3,624.3].forEach(x=>svg.append("line").attr("x1",x).attr("x2",x).attr("y1",38.7).attr("y2",465.7).attr("stroke","#333").attr("stroke-width",1));
cum.slice(0,3).forEach(c=>svg.append("line").attr("x1",322).attr("x2",639).attr("y1",yR(c)).attr("y2",yR(c)).attr("stroke","#333").attr("stroke-width",1));
svg.append("rect").attr("x",321).attr("y",106.5).attr("width",320.5).attr("height",65.5).attr("fill","none").attr("stroke","#ee1c25").attr("stroke-width",4);
[[658,91],[660,230],[662,335],[663,422]].forEach(([x,y],i)=>text(x,y,blockNames[i],13.5));

// Legends
function legend(id,x0,x1,stops,title,tx,lab){
  const gr=defs.append("linearGradient").attr("id",id);
  stops.forEach((c,i)=>gr.append("stop").attr("offset",i/(stops.length-1)).attr("stop-color",c));
  svg.append("rect").attr("x",x0).attr("y",501.7).attr("width",x1-x0).attr("height",6).attr("fill",`url(#${id})`).attr("stroke","#888").attr("stroke-width",.7);
  text(tx,497,title,12.5);
  lab.forEach(([x,s])=>text(x,521,s,12.5));
}
legend("g1",368.3,471,["#f4676e","#f9e47c","#58b873"],"ARE-luc and cell viability",418,[[372,"0.5"],[467,"2"]]);
legend("g2",519.3,577.3,["#f4676e","#f9e47c","#58b873"],"Difference",546,[[514,"-1"],[569,"1"]]);
legend("g3",597.7,631,["#f9e47c","#58b873"],"SAD",612,[[593,"0"],[620.7,"4"]]);
</script></body></html>
